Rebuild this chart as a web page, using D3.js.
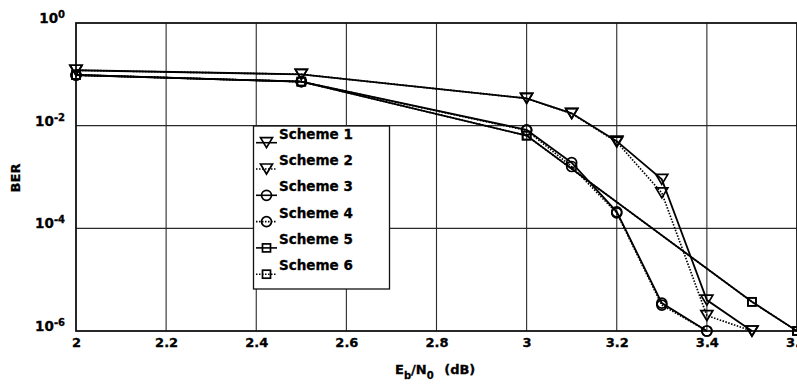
<!DOCTYPE html>
<html>
<head>
<meta charset="utf-8">
<script src="https://cdn.jsdelivr.net/npm/d3@7/dist/d3.min.js"></script>
<style>
  body { margin: 0; background: #fff; }
  svg { display: block; }
  text { font-family: "DejaVu Sans", sans-serif; font-weight: bold; fill: #000; stroke: #000; stroke-width: 0.3px; }
</style>
</head>
<body>
<svg id="chart" width="797" height="387"></svg>
<script>
// ---- Data ----
const xTicks = [2, 2.2, 2.4, 2.6, 2.8, 3, 3.2, 3.4, 3.6];
const xTickLabels = ["2", "2.2", "2.4", "2.6", "2.8", "3", "3.2", "3.4", "3.6"];
const yTickExps = [0, -2, -4, -6];

const s1x = [2, 2.5, 3.0, 3.1, 3.2, 3.3, 3.4, 3.5];
const s1y = [0.12, 0.10, 0.034, 0.0174, 0.0050, 9.0e-4, 4.0e-6, 1.0e-6];
const s2x = [2, 2.5, 3.0, 3.1, 3.2, 3.3, 3.4, 3.5];
const s2y = [0.12, 0.10, 0.034, 0.0172, 0.0048, 4.9e-4, 2.0e-6, 1.0e-6];
const s3x = [2, 2.5, 3.0, 3.1, 3.2, 3.3, 3.4];
const s3y = [0.097, 0.072, 0.0083, 0.0019, 2.1e-4, 3.5e-6, 1.0e-6];
const s4x = [2, 2.5, 3.0, 3.1, 3.2, 3.3, 3.4];
const s4y = [0.097, 0.072, 0.0081, 0.0016, 2.0e-4, 3.2e-6, 1.0e-6];
const s5x = [2, 2.5, 3.0, 3.5, 3.6];
const s5y = [0.097, 0.072, 0.0064, 3.7e-6, 1.0e-6];
const s6x = [2, 2.5, 3.0, 3.5, 3.6];
const s6y = [0.097, 0.072, 0.0064, 3.7e-6, 1.0e-6];

const seriesNames = ["Scheme 1", "Scheme 2", "Scheme 3", "Scheme 4", "Scheme 5", "Scheme 6"];
const seriesMarkers = ["tri", "tri", "circle", "circle", "square", "square"];
const seriesDashed = [false, true, false, true, false, true];

const seriesX = [s1x, s2x, s3x, s4x, s5x, s6x];
const seriesY = [s1y, s2y, s3y, s4y, s5y, s6y];

// ---- Layout ----
const svg = d3.select("#chart");
const L = 76, T = 23, R = 797, B = 331;
const x = d3.scaleLinear().domain([2, 3.6]).range([L, R]);
const y = d3.scaleLog().domain([1e-6, 1]).range([B, T]);

// grid
const g = svg.append("g");
g.selectAll("line.vx").data(xTicks.slice(1, -1)).enter().append("line")
  .attr("x1", d => x(d)).attr("x2", d => x(d)).attr("y1", T).attr("y2", B)
  .attr("stroke", "#2a2a2a").attr("stroke-width", 1.1);
g.selectAll("line.hy").data(yTickExps.slice(1, -1)).enter().append("line")
  .attr("x1", L).attr("x2", R).attr("y1", d => y(Math.pow(10, d))).attr("y2", d => y(Math.pow(10, d)))
  .attr("stroke", "#2a2a2a").attr("stroke-width", 1.1);

// frame
svg.append("rect").attr("x", L).attr("y", T).attr("width", R - L).attr("height", B - T)
  .attr("fill", "none").attr("stroke", "#111").attr("stroke-width", 1.8);

// axes tick labels (via axis)
const xAxis = d3.axisBottom(x).tickValues(xTicks).tickSize(0).tickPadding(0)
  .tickFormat((d, i) => xTickLabels[i]);
const xa = svg.append("g").attr("transform", `translate(0,${B})`).call(xAxis);
xa.select(".domain").remove();
xa.selectAll("text").attr("dy", null).attr("y", 16).attr("font-size", 13)
  .attr("font-family", "DejaVu Sans").attr("font-weight", "bold").attr("fill", "#000");

const ya = svg.append("g");
yTickExps.forEach(e => {
  const t = ya.append("text").attr("x", 65).attr("y", y(Math.pow(10, e)))
    .attr("text-anchor", "end").attr("font-size", 13.5);
  t.append("tspan").text("10");
  t.append("tspan").attr("font-size", 10).attr("dy", -5).text(String(e));
});

// axis titles
const xt = svg.append("text").attr("x", 395).attr("y", 374).attr("font-size", 13);
xt.append("tspan").text("E");
xt.append("tspan").attr("font-size", 10).attr("dy", 5).text("b");
xt.append("tspan").attr("dy", -5).text("/N");
xt.append("tspan").attr("font-size", 10).attr("dy", 5).text("0");
xt.append("tspan").attr("dy", -5).attr("dx", 6).text(" (dB)");

svg.append("text").attr("transform", "translate(20,178) rotate(-90)")
  .attr("text-anchor", "middle").attr("font-size", 13).text("BER");

// markers
function drawMarker(sel, type, cx, cy) {
  if (type === "tri") {
    sel.append("path").attr("d", `M${cx - 6},${cy - 5}L${cx + 6},${cy - 5}L${cx},${cy + 5}Z`)
      .attr("fill", "none").attr("stroke", "#000").attr("stroke-width", 1.7);
  } else if (type === "circle") {
    sel.append("circle").attr("cx", cx).attr("cy", cy).attr("r", 5)
      .attr("fill", "none").attr("stroke", "#000").attr("stroke-width", 1.7);
  } else {
    sel.append("rect").attr("x", cx - 4).attr("y", cy - 4).attr("width", 8).attr("height", 8)
      .attr("fill", "none").attr("stroke", "#000").attr("stroke-width", 1.7);
  }
}

const line = d3.line().x(d => x(d[0])).y(d => y(d[1]));
const plot = svg.append("g");
seriesNames.forEach((name, i) => {
  const pts = seriesX[i].map((v, j) => [v, seriesY[i][j]]);
  plot.append("path").attr("d", line(pts)).attr("fill", "none")
    .attr("stroke", "#000").attr("stroke-width", seriesDashed[i] ? 1.7 : 1.8)
    .attr("stroke-dasharray", seriesDashed[i] ? "1.5,1.5" : null);
  pts.forEach(p => drawMarker(plot, seriesMarkers[i], x(p[0]), y(p[1])));
});

// legend
const lg = svg.append("g");
lg.append("rect").attr("x", 253.5).attr("y", 126).attr("width", 136).attr("height", 163)
  .attr("fill", "#fff").attr("stroke", "#111").attr("stroke-width", 1.3);
seriesNames.forEach((name, i) => {
  const ly = 142.7 + i * 26.3;
  lg.append("line").attr("x1", 256).attr("x2", 277).attr("y1", ly).attr("y2", ly)
    .attr("stroke", "#000").attr("stroke-width", 1.6)
    .attr("stroke-dasharray", seriesDashed[i] ? "1.5,1.5" : null);
  drawMarker(lg, seriesMarkers[i], 266.5, ly);
  lg.append("text").attr("x", 279).attr("y", ly - 4).attr("font-size", 13.5).text(name);
});
</script>
</body>
</html>
